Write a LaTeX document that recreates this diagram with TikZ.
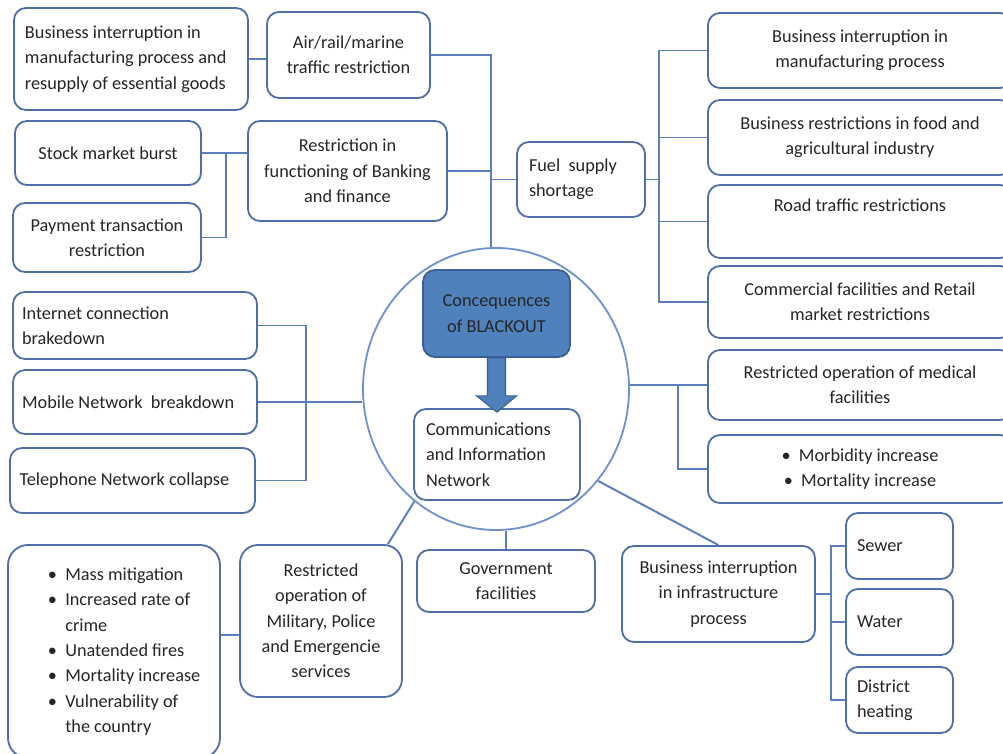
\documentclass[tikz,border=0pt]{standalone}
\usepackage{fontspec}
\setmainfont{Carlito}
\usetikzlibrary{calc, positioning, shapes.geometric}

\definecolor{boxblue}{RGB}{79,111,168}
\definecolor{linkblue}{RGB}{92,126,190}
\definecolor{ringblue}{RGB}{110,145,210}
\definecolor{coreblue}{RGB}{79,129,189}
\definecolor{coreedge}{RGB}{58,95,149}
\definecolor{inkgray}{RGB}{38,38,38}

\begin{document}
\begin{tikzpicture}[font=\fontsize{13}{18}\selectfont, text=inkgray,
  box/.style={draw=boxblue, line width=1.3pt, rounded corners=0.3cm, fill=white, inner sep=0pt, align=center},
  sz/.style 2 args={minimum width=#1cm, minimum height=#2cm},
  link/.style={draw=linkblue, line width=1.4pt}]
  \useasboundingbox (0,0) rectangle (25.075,-18.85);
  \clip (0,0) rectangle (25.075,-18.85);

  \node[ellipse, draw=ringblue, line width=1.3pt, minimum width=6.65cm, minimum height=7.05cm, inner sep=0pt] (ring) at (12.4,-9.725) {};

  \node[box, sz={5.85}{2.55}, align=flush left, text width=5.3cm] (goods) at (3.275,-1.475) {Business interruption in\\ manufacturing process and\\ resupply of essential goods};
  \node[box, sz={4.075}{2.15}] (airrail) at (8.7125,-1.375) {Air/rail/marine\\ traffic restriction};
  \node[box, sz={4.65}{1.6}] (stock) at (2.7,-3.825) {Stock market burst};
  \node[box, sz={4.7}{1.725}] (payment) at (2.675,-5.9375) {Payment transaction\\ restriction};
  \node[box, sz={4.975}{2.5}] (banking) at (8.6875,-4.275) {Restriction in\\ functioning of Banking\\ and finance};
  \node[box, sz={3.2}{1.875}, align=flush left, text width=2.6cm] (fuel) at (14.525,-4.4875) {Fuel\ \ supply\\ shortage};

  \node[box, sz={7.6}{1.875}] (manuf) at (21.5,-1.2625) {Business interruption in\\ manufacturing process};
  \node[box, sz={7.6}{1.875}] (food) at (21.5,-3.4375) {Business restrictions in food and\\ agricultural industry};
  \node[box, sz={7.6}{1.825}] (road) at (21.5,-5.5375) {Road traffic restrictions\\ \strut};
  \node[box, sz={7.6}{1.8}] (retail) at (21.5,-7.55) {Commercial facilities and Retail\\ market restrictions};
  \node[box, sz={7.6}{1.75}] (medical) at (21.5,-9.625) {Restricted operation of medical\\ facilities};
  \node[box, sz={7.6}{1.7}] (morbid) at (21.5,-11.725) {\textbullet\ \ Morbidity increase\\ \textbullet\ \ Mortality increase};

  \node[box, sz={6.1}{1.675}, align=flush left, text width=5.65cm] (internet) at (3.375,-8.1375) {Internet connection\\ brakedown};
  \node[box, sz={6.1}{1.6}, align=flush left, text width=5.65cm] (mobile) at (3.375,-10.05) {Mobile Network\ \ breakdown};
  \node[box, sz={6.125}{1.625}, align=flush left, text width=5.65cm] (phone) at (3.3125,-12.0125) {Telephone Network collapse};

  \node[box, sz={3.675}{2.175}, fill=coreblue, draw=coreedge] (blackout) at (12.4125,-7.8375) {Concequences\\ of BLACKOUT};
  \node[box, sz={4.15}{2.275}, align=flush left, text width=3.55cm] (comm) at (12.425,-11.3625) {Communications\\ and Information\\ Network};

  \node[box, sz={5.3}{5.325}, rounded corners=0.5cm] (effects) at (2.85,-16.2875) {\hspace*{0.5cm}\begin{tabular}{@{}l@{\hspace{6pt}}l@{}}
    \textbullet & Mass mitigation\\
    \textbullet & Increased rate of\\
     & crime\\
    \textbullet & Unatended fires\\
    \textbullet & Mortality increase\\
    \textbullet & Vulnerability of\\
     & the country
  \end{tabular}};
  \node[box, sz={4.05}{3.8}, rounded corners=0.45cm] (military) at (8.025,-15.525) {Restricted\\ operation of\\ Military, Police\\ and Emergencie\\ services};
  \node[box, sz={4.45}{1.55}] (gov) at (12.65,-14.525) {Government\\ facilities};
  \node[box, sz={4.825}{2.4}] (infra) at (17.9625,-14.85) {Business interruption\\ in infrastructure\\ process};
  \node[box, sz={2.675}{1.65}, align=flush left, text width=2.125cm] (sewer) at (22.4875,-13.65) {Sewer};
  \node[box, sz={2.675}{1.65}, align=flush left, text width=2.125cm] (water) at (22.4875,-15.55) {Water};
  \node[box, sz={2.675}{1.65}, align=flush left, text width=2.125cm] (heating) at (22.4875,-17.5) {District\\ heating};

  \draw[link] (goods.east) -- (goods.east -| airrail.west);
  \draw[link] (airrail.east) -| (ring.92);
  \draw[link] (banking.east) -- (banking.east -| ring.92);
  \draw[link] (fuel.west) -- (fuel.west -| ring.92);
  \draw[link] (stock.east) -- (stock.east -| banking.west);
  \coordinate (stockbus) at ($(stock.east)+(0.6,0)$);
  \draw[link] (stockbus) |- (payment.east);

  \coordinate (fuelbus) at ($(manuf.west)+(-1.2,0)$);
  \draw[link] (fuel.east) -- (fuel.east -| fuelbus);
  \draw[link] (manuf.west) -- (fuelbus) |- (retail.west);
  \draw[link] (food.west) -- (food.west -| fuelbus);
  \draw[link] (road.west) -- (road.west -| fuelbus);

  \coordinate (netbus) at ($(internet.east)+(1.2,0)$);
  \draw[link] (internet.east) -- (netbus) |- (phone.east);
  \draw[link] (mobile.east) -- (ring.west |- mobile.east);

  \coordinate (medbus) at ($(medical.west)+(-0.725,0)$);
  \draw[link] (ring.east |- medical.west) -- (medical.west);
  \draw[link] (medbus) |- (morbid.west);

  \draw[link] ([yshift=-0.35cm]military.west) -- ([yshift=-0.35cm]military.west -| effects.east);
  \draw[link] (ring.-126) -- ([xshift=-0.375cm]military.north east);
  \draw[link] (gov.north) -- (gov.north |- ring.south);
  \draw[link] (ring.-42) -- (infra.north);
  \coordinate (infrabus) at ($(sewer.west)+(-0.35,0)$);
  \draw[link] (infra.east) -- (infra.east -| infrabus);
  \draw[link] (sewer.west) -- (infrabus) |- (heating.west);
  \draw[link] (water.west) -- (water.west -| infrabus);

  \filldraw[fill=coreblue, draw=coreedge, line width=0.8pt] ($(blackout.south)+(-0.225,0)$) -- ++(0,-0.95) -- ++(-0.275,0) -- ($(comm.north)+(0,-0.1)$) -- ($(blackout.south)+(0.5,-0.95)$) -- ++(-0.275,0) -- ($(blackout.south)+(0.225,0)$) -- cycle;
\end{tikzpicture}
\end{document}
